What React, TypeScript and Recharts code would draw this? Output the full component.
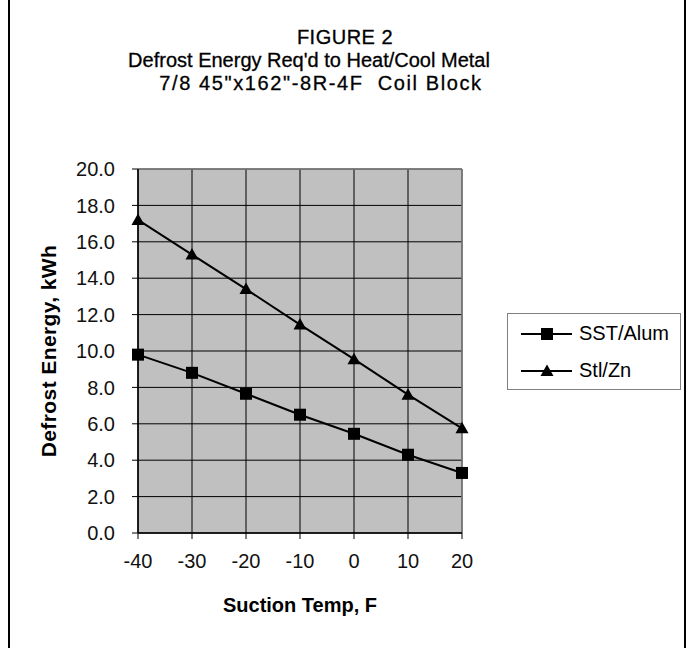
import { CartesianGrid, Line, LineChart, ReferenceLine, XAxis, YAxis } from "recharts";

const temps = [-40, -30, -20, -10, 0, 10, 20];
const sstAlum = [9.8, 8.8, 7.65, 6.5, 5.45, 4.3, 3.3];
const stlZn = [17.2, 15.3, 13.4, 11.45, 9.55, 7.6, 5.75];
const seriesNames = ["SST/Alum", "Stl/Zn"];
const yTicks = [0, 2, 4, 6, 8, 10, 12, 14, 16, 18, 20];
const titleLines = [
  "FIGURE 2",
  "Defrost Energy Req'd to Heat/Cool Metal",
  "7/8 45\"x162\"-8R-4F  Coil Block",
];
const titleCenters = [345, 309, 321];
const titleSpacing = [0.5, 0, 1.6];

const data = temps.map((t, i) => ({ t, sst: sstAlum[i], stl: stlZn[i] }));

const FONT = "'Liberation Sans', Arial, sans-serif";

function SquareDot(props: any) {
  const { cx, cy, index } = props;
  if (cx == null || cy == null) return null;
  return <rect key={`sq-${index}`} x={cx - 6} y={cy - 6} width={12} height={12} fill="#000" />;
}

function TriangleDot(props: any) {
  const { cx, cy, index } = props;
  if (cx == null || cy == null) return null;
  return (
    <path
      key={`tri-${index}`}
      d={`M${cx},${cy - 6.5} L${cx + 6.5},${cy + 5} L${cx - 6.5},${cy + 5} Z`}
      fill="#000"
    />
  );
}

function LegendBox() {
  return (
    <div
      style={{
        position: "absolute",
        left: 507,
        top: 313,
        width: 174,
        height: 77,
        border: "1px solid #808080",
        background: "#fff",
        boxSizing: "border-box",
        paddingTop: 1,
        fontFamily: FONT,
        fontSize: 20,
        color: "#000",
      }}
    >
      {seriesNames.map((name, i) => (
        <div key={name} style={{ display: "flex", alignItems: "center", height: 37 }}>
          <svg width={64} height={20} style={{ marginLeft: 13 }}>
            <line x1={0} y1={10} x2={51} y2={10} stroke="#000" strokeWidth={2} />
            {i === 0 ? (
              <rect x={20} y={4} width={12} height={12} fill="#000" />
            ) : (
              <path d="M26,3.5 L32.5,15 L19.5,15 Z" fill="#000" />
            )}
          </svg>
          <span style={{ marginLeft: -6 }}>{name}</span>
        </div>
      ))}
    </div>
  );
}

export default function App() {
  return (
    <div
      style={{
        position: "absolute",
        left: 0,
        top: 0,
        width: 691,
        height: 648,
        background: "#fff",
        fontFamily: FONT,
      }}
    >
      <div style={{ position: "absolute", left: 8, top: 0, width: 2, height: 648, background: "#000" }} />
      <div style={{ position: "absolute", left: 684, top: 0, width: 2, height: 648, background: "#000" }} />
      {titleLines.map((line, i) => (
        <div
          key={line}
          style={{
            position: "absolute",
            left: titleCenters[i] - 250,
            width: 500,
            top: 26 + i * 23,
            textAlign: "center",
            fontSize: 20,
            lineHeight: "23px",
            letterSpacing: titleSpacing[i],
            color: "#000",
            WebkitTextStroke: "0.3px #000",
            whiteSpace: "pre",
          }}
        >
          {line}
        </div>
      ))}
      <LineChart
        width={691}
        height={648}
        data={data}
        margin={{ top: 169, right: 229, bottom: 85, left: 18 }}
      >
        <CartesianGrid stroke="#000" strokeWidth={1} fill="#c0c0c0" fillOpacity={1} />
        <XAxis
          dataKey="t"
          type="number"
          domain={[-40, 20]}
          ticks={temps}
          height={30}
          axisLine={{ stroke: "#000", strokeWidth: 1.5 }}
          tickLine={{ stroke: "#000" }}
          tickSize={6}
          tickMargin={15}
          tick={{ fill: "#111", fontSize: 20, fontFamily: FONT }}
          label={{
            value: "Suction Temp, F",
            position: "bottom",
            offset: 35,
            style: { fill: "#000", fontSize: 20, fontWeight: "bold", fontFamily: FONT },
          }}
        />
        <YAxis
          type="number"
          domain={[0, 20]}
          ticks={yTicks}
          width={120}
          axisLine={{ stroke: "#000", strokeWidth: 1.5 }}
          tickLine={{ stroke: "#000" }}
          tickSize={6}
          tickMargin={17}
          tickFormatter={(v: number) => v.toFixed(1)}
          tick={{ fill: "#111", fontSize: 20, fontFamily: FONT }}
          label={{
            value: "Defrost Energy, kWh",
            angle: -90,
            position: "insideLeft",
            offset: 31,
            style: {
              textAnchor: "middle",
              fill: "#000",
              fontSize: 21,
              letterSpacing: 0.4,
              fontWeight: "bold",
              fontFamily: FONT,
            },
          }}
        />
        <ReferenceLine y={20} stroke="#808080" strokeWidth={1.5} />
        <ReferenceLine x={20} stroke="#808080" strokeWidth={1.5} />
        <Line
          dataKey="sst"
          name={seriesNames[0]}
          stroke="#000"
          strokeWidth={2}
          dot={<SquareDot />}
          activeDot={false}
          isAnimationActive={false}
        />
        <Line
          dataKey="stl"
          name={seriesNames[1]}
          stroke="#000"
          strokeWidth={2}
          dot={<TriangleDot />}
          activeDot={false}
          isAnimationActive={false}
        />
      </LineChart>
      <LegendBox />
    </div>
  );
}
